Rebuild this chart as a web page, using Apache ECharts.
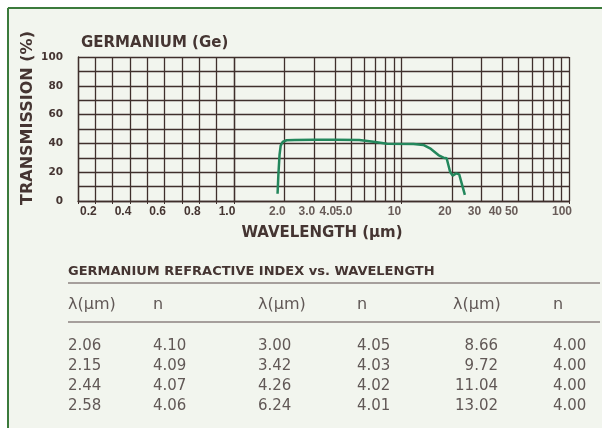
<!DOCTYPE html>
<html>
<head>
<meta charset="utf-8">
<script src="https://cdn.jsdelivr.net/npm/echarts@6/dist/echarts.min.js"></script>
<style>
html, body { margin: 0; padding: 0; background: #fff; }
#main { width: 602px; height: 428px; }
</style>
</head>
<body>
<div id="main"></div>
<script>
// transmission curve
var wavelength = [1.82, 1.84, 1.87, 1.90, 1.95, 2.06, 2.3, 3.0, 4.0, 5.6, 6.8, 8.2, 11.8, 13.5, 14.8, 16.6, 17.8, 18.6, 19.5, 20.2, 21.2, 22.1, 23.9];
var transmission = [5, 18, 32, 38.5, 41, 42.2, 42.4, 42.6, 42.6, 42.4, 41.2, 39.8, 39.6, 38.9, 36.6, 31.9, 30.1, 29.7, 20.3, 17.6, 19.2, 18.5, 4.2];

var yTickLabels = [0, 20, 40, 60, 80, 100];
var linTickLabels = ['0.2', '0.4', '0.6', '0.8', '1.0'];
var logTickValues = [2, 3, 4, 5, 10, 20, 30, 40, 50, 100];
var logTickLabels = ['2.0', '3.0', '4.0', '5.0', '10', '20', '30', '40', '50', '100'];
var logGridLines = [2, 3, 4, 5, 6, 7, 8, 9, 20, 30, 40, 50, 60, 70, 80, 90];

// refractive index table
var tableHeader = ['\u03bb(\u00b5m)', 'n', '\u03bb(\u00b5m)', 'n', '\u03bb(\u00b5m)', 'n'];
var waveA = ['2.06', '2.15', '2.44', '2.58'];
var indexA = ['4.10', '4.09', '4.07', '4.06'];
var waveB = ['3.00', '3.42', '4.26', '6.24'];
var indexB = ['4.05', '4.03', '4.02', '4.01'];
var waveC = ['8.66', '9.72', '11.04', '13.02'];
var indexC = ['4.00', '4.00', '4.00', '4.00'];

var ink = '#453532';
var gridColor = '#3f2f2c';
var green = '#23875c';
var bg = '#f2f5ee';
var tableInk = '#615856';
var headFont = 'bold 15px "DejaVu Sans"';
var tickFont = 'Liberation Sans Narrow, Liberation Sans';

var myChart = echarts.init(document.getElementById('main'));

var graphics = [
	{type: 'rect', shape: {x: 0, y: 0, width: 602, height: 7}, style: {fill: '#fff'}},
	{type: 'rect', shape: {x: 0, y: 0, width: 7, height: 428}, style: {fill: '#fff'}},
	{type: 'line', shape: {x1: 8, y1: 8, x2: 602, y2: 8}, style: {stroke: '#3b7a3b', lineWidth: 2}},
	{type: 'line', shape: {x1: 8, y1: 8, x2: 8, y2: 428}, style: {stroke: '#3b7a3b', lineWidth: 2}},
	{type: 'text', x: 28, y: 118, rotation: Math.PI / 2,
		style: {text: 'TRANSMISSION (%)', font: 'bold 16px "DejaVu Sans"', fill: ink, align: 'center', verticalAlign: 'middle'}},
	{type: 'text', x: 322, y: 233,
		style: {text: 'WAVELENGTH (\u00b5m)', font: headFont, fill: ink, align: 'center', verticalAlign: 'middle'}},
	{type: 'text', x: 68, y: 272,
		style: {text: 'GERMANIUM REFRACTIVE INDEX vs. WAVELENGTH', font: 'bold 13px "DejaVu Sans"', fill: ink, align: 'left', verticalAlign: 'middle'}},
	{type: 'line', shape: {x1: 68, y1: 283, x2: 600, y2: 283}, style: {stroke: '#8c8280', lineWidth: 1.5}},
	{type: 'line', shape: {x1: 68, y1: 322, x2: 600, y2: 322}, style: {stroke: '#8c8280', lineWidth: 1.5}}
];

// table columns: x position, alignment
var colX = [68, 153, 258, 357, 453, 553];
tableHeader.forEach(function(h, i) {
	graphics.push({type: 'text', x: colX[i], y: 305,
		style: {text: h, font: '16px "DejaVu Sans"', fill: tableInk, align: 'left', verticalAlign: 'middle'}});
});
var cols = [waveA, indexA, waveB, indexB, waveC, indexC];
var rowY = [346, 366, 386, 406];
cols.forEach(function(col, c) {
	col.forEach(function(v, r) {
		var right = (c === 4);
		graphics.push({type: 'text', x: right ? 498 : colX[c], y: rowY[r],
			style: {text: v, font: '15px "DejaVu Sans"', fill: tableInk, align: right ? 'right' : 'left', verticalAlign: 'middle'}});
	});
});

var option = {
	backgroundColor: bg,
	animation: false,
	title: {
		text: 'GERMANIUM (Ge)',
		left: 76,
		top: 31,
		textStyle: {fontFamily: 'DejaVu Sans', fontWeight: 'bold', fontSize: 15, color: ink}
	},
	grid: [
		{left: 78, top: 57, width: 156, height: 144},
		{left: 234, top: 57, width: 335, height: 144}
	],
	xAxis: [{
		type: 'value',
		gridIndex: 0,
		min: 0.1,
		max: 1.0,
		interval: 0.1,
		axisLine: {show: true, lineStyle: {color: gridColor, width: 1.3}},
		axisTick: {show: true, length: 3, lineStyle: {color: gridColor}},
		splitLine: {show: true, lineStyle: {color: gridColor, width: 1.3}},
		axisLabel: {
			margin: 5,
			color: ink,
			fontSize: 12,
			fontWeight: 'bold',
			fontFamily: tickFont,
			padding: [0, 14, 0, 0],
			formatter: function(v) {
				var s = v.toFixed(1);
				return linTickLabels.indexOf(s) >= 0 ? s : '';
			}
		}
	}, {
		type: 'log',
		gridIndex: 1,
		logBase: 10,
		min: 1,
		max: 100,
		axisLine: {show: true, lineStyle: {color: gridColor, width: 1.3}},
		axisTick: {show: true, length: 3, lineStyle: {color: gridColor}},
		splitLine: {show: true, lineStyle: {color: gridColor, width: 1.3}},
		axisLabel: {show: false}
	}],
	yAxis: [{
		type: 'value',
		gridIndex: 0,
		min: 0,
		max: 100,
		interval: 10,
		axisLine: {show: true, lineStyle: {color: gridColor, width: 1.3}},
		axisTick: {show: false},
		splitLine: {show: true, lineStyle: {color: gridColor, width: 1.3}},
		axisLabel: {
			margin: 15,
			color: ink,
			fontSize: 10.5,
			fontWeight: 'bold',
			fontFamily: 'DejaVu Sans',
			formatter: function(v) {
				return yTickLabels.indexOf(v) >= 0 ? String(v) : '';
			}
		}
	}, {
		type: 'value',
		gridIndex: 1,
		min: 0,
		max: 100,
		interval: 10,
		axisLine: {show: false},
		axisTick: {show: false},
		splitLine: {show: true, lineStyle: {color: gridColor, width: 1.3}},
		axisLabel: {show: false}
	}],
	series: [{
		type: 'scatter',
		xAxisIndex: 1,
		yAxisIndex: 1,
		z: 1,
		silent: true,
		clip: false,
		symbolSize: 0,
		data: logTickValues.map(function(v) { return [v, 0]; }),
		label: {
			show: true,
			position: 'bottom',
			distance: 5,
			offset: [-7, 0],
			color: ink,
			fontSize: 12,
			fontWeight: 'bold',
			fontFamily: tickFont,
			formatter: function(p) { return logTickLabels[p.dataIndex]; }
		},
		markLine: {
			silent: true,
			animation: false,
			symbol: ['none', 'none'],
			label: {show: false},
			emphasis: {disabled: true},
			lineStyle: {color: gridColor, width: 1.3, type: 'solid'},
			data: logGridLines.map(function(v) { return {xAxis: v}; })
		}
	}, {
		type: 'line',
		xAxisIndex: 1,
		yAxisIndex: 1,
		z: 5,
		symbol: 'none',
		smooth: false,
		lineStyle: {color: green, width: 2.5},
		data: wavelength.map(function(w, i) { return [w, transmission[i]]; })
	}],
	graphic: graphics
};

myChart.setOption(option);
</script>
</body>
</html>
